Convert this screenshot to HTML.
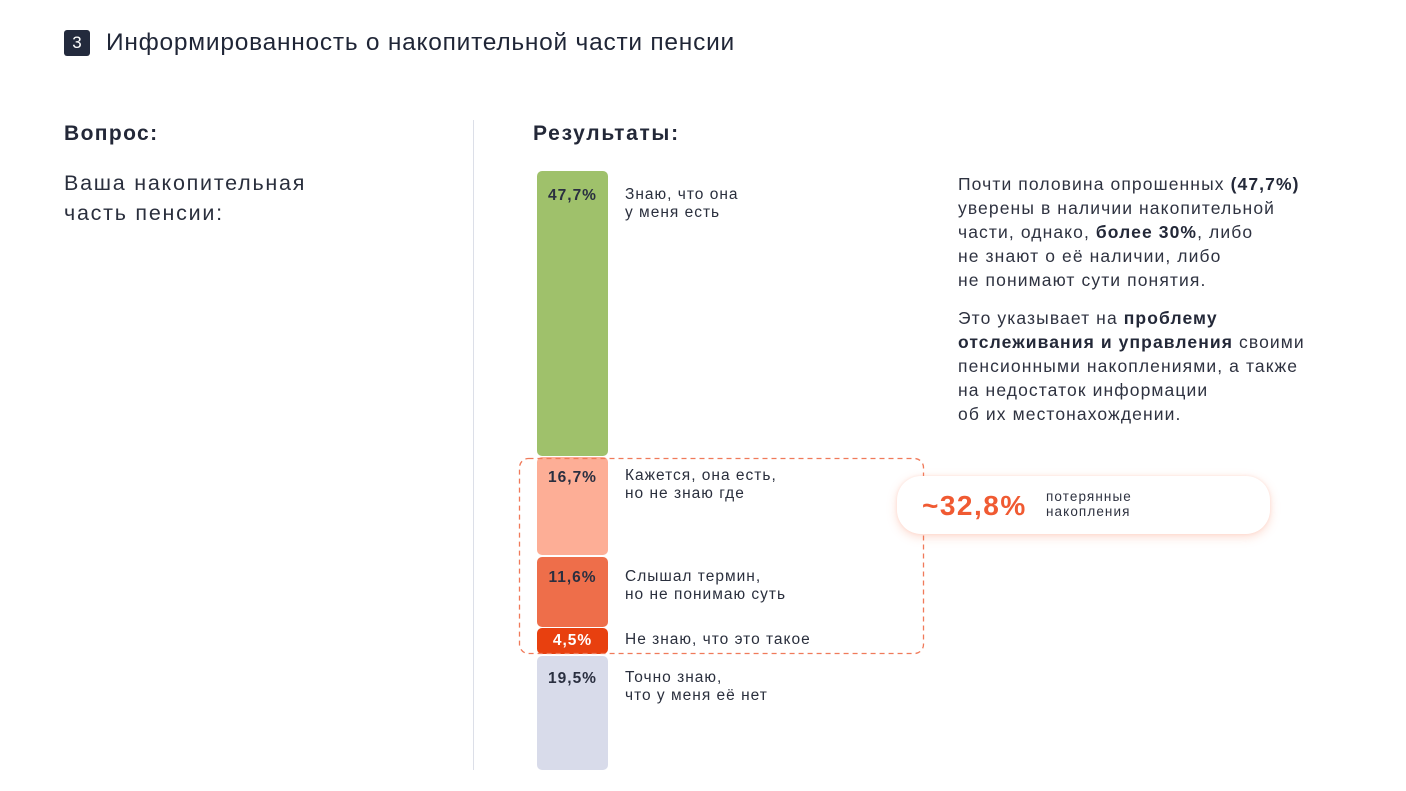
<!DOCTYPE html>
<html><head><meta charset="utf-8">
<style>
*{margin:0;padding:0;box-sizing:border-box}
body{width:1406px;height:791px;background:#fff;position:relative;overflow:hidden;font-family:"Liberation Sans","Noto Sans CJK SC",sans-serif;color:#232838}
.a{position:absolute;white-space:nowrap}
.badge{left:64px;top:30px;width:26px;height:26px;background:#232a3d;border-radius:3px;color:#fff;font-size:17px;text-align:center;line-height:26px}
.title{left:106px;top:28px;font-size:24.5px;line-height:30px;color:#1f2536;letter-spacing:0.75px}
.h{font-size:21px;font-weight:600;color:#232838}
.q{font-size:21.5px;line-height:30px;color:#2a2f3d;letter-spacing:1.75px}
.div{left:473px;top:120px;width:1px;height:650px;background:#dcdfe8}
.bar{position:absolute;left:537px;width:71px;border-radius:5px;text-align:center;font-weight:bold;font-size:15.5px;color:#2a2f40;padding-top:16px;line-height:18px;letter-spacing:1px}
.lab{position:absolute;left:625px;font-size:15.5px;line-height:18px;color:#2a2f3d;white-space:nowrap;letter-spacing:1px}
.txt{position:absolute;left:958px;font-size:17.5px;line-height:24px;color:#2e3240;white-space:nowrap;letter-spacing:1.1px}
.txt b{font-weight:bold;color:#232838}
</style></head><body>
<div class="a badge">3</div>
<div class="a title">Информированность о накопительной части пенсии</div>

<div class="a h" style="left:64px;top:122px;letter-spacing:1.4px">Вопрос:</div>
<div class="a q" style="left:64px;top:168px">Ваша накопительная<br>часть пенсии:</div>

<div class="a div"></div>

<div class="a h" style="left:533px;top:122px;letter-spacing:1.7px">Результаты:</div>

<div class="bar" style="top:171px;height:285px;background:#9fc16b;">47,7%</div>
<div class="bar" style="top:457px;height:98px;background:#fdae96;padding-top:12px">16,7%</div>
<div class="bar" style="top:557px;height:70px;background:#ee6e4a;padding-top:12px">11,6%</div>
<div class="bar" style="top:628px;height:26px;background:#e8400f;color:#fff;padding-top:4px">4,5%</div>
<div class="bar" style="top:656px;height:114px;background:#d8dbea;padding-top:14px">19,5%</div>

<svg class="a" style="left:0;top:0" width="1406" height="791">
<rect x="519.5" y="458.5" width="404" height="195" rx="9" ry="9" fill="none" stroke="#f07a5a" stroke-width="1.3" stroke-dasharray="5,4"/>
</svg>

<div class="lab" style="top:186px">Знаю, что она<br>у меня есть</div>
<div class="lab" style="top:467px">Кажется, она есть,<br>но не знаю где</div>
<div class="lab" style="top:568px">Слышал термин,<br>но не понимаю суть</div>
<div class="lab" style="top:631px">Не знаю, что это такое</div>
<div class="lab" style="top:669px">Точно знаю,<br>что у меня её нет</div>

<div class="a" style="left:897px;top:476px;width:373px;height:58px;background:#fff;border-radius:24px;box-shadow:0 3px 10px rgba(248,130,95,0.28),0 0 3px rgba(248,150,120,0.2)"></div>
<div class="a" style="left:922px;top:489px;font-size:28px;font-weight:bold;color:#f05a32;line-height:34px;letter-spacing:1.5px">~32,8%</div>
<div class="a" style="left:1046px;top:489px;font-size:13.5px;line-height:15px;color:#2e3240;letter-spacing:1.1px">потерянные<br>накопления</div>

<div class="txt" style="top:172px">Почти половина опрошенных <b>(47,7%)</b><br>уверены в наличии накопительной<br>части, однако, <b>более 30%</b>, либо<br>не знают о её наличии, либо<br>не понимают сути понятия.</div>
<div class="txt" style="top:306px">Это указывает на <b>проблему</b><br><b>отслеживания и управления</b> своими<br>пенсионными накоплениями, а также<br>на недостаток информации<br>об их местонахождении.</div>
</body></html>
